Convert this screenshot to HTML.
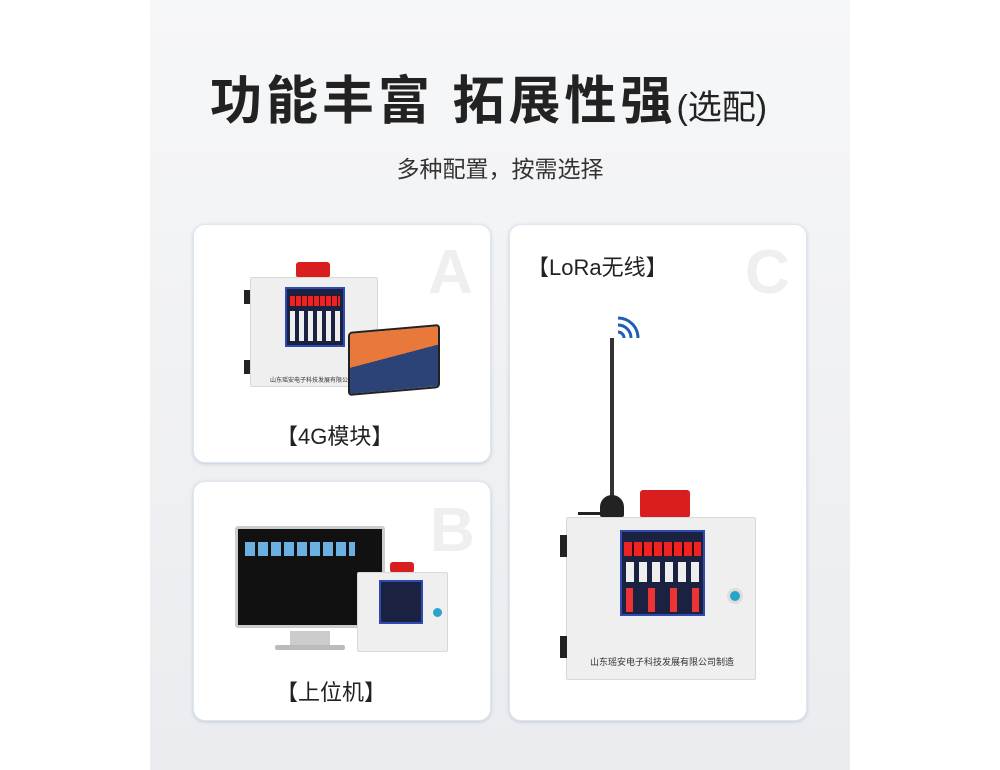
<!DOCTYPE html>
<html><head><meta charset="utf-8"><style>
*{margin:0;padding:0;box-sizing:border-box}
body{width:1000px;height:770px;background:#fff;position:relative;overflow:hidden;font-family:"Liberation Sans","Noto Sans CJK SC",sans-serif}
.bg{position:absolute;left:150px;top:0;width:700px;height:770px;background:linear-gradient(180deg,#f6f7f8 0%,#f0f1f3 50%,#eaecef 100%)}
.a{position:absolute}
.card{position:absolute;background:#fff;border-radius:12px;box-shadow:0 1px 3px rgba(150,170,200,.5);border:1px solid #dfe6ef}
.L{position:absolute;font-weight:bold;color:#efefef;font-size:62px;line-height:1}
.lab{position:absolute;font-size:22px;color:#222;white-space:nowrap}
.box{position:absolute;background:#efefef;border:1px solid #d8d8d8;border-radius:2px}
.pan{position:absolute;background:#1b2140;border:2px solid #2f4ab0}
.red{position:absolute;background:#d81e1e;border-radius:3px}
</style></head><body>
<div class="bg"></div>
<div class="a" style="left:210px;top:70px;font-size:52px;font-weight:bold;color:#222;letter-spacing:4px;white-space:nowrap;line-height:64px">功能丰富 拓展性强<span style="font-size:34px;font-weight:normal;letter-spacing:0">(选配)</span></div>
<div class="a" style="left:0;width:1000px;text-align:center;top:150px;font-size:23px;color:#333">多种配置，按需选择</div>

<div class="card" style="left:193px;top:224px;width:298px;height:239px"></div>
<div class="card" style="left:193px;top:481px;width:298px;height:240px"></div>
<div class="card" style="left:509px;top:224px;width:298px;height:497px"></div>
<div class="L" style="left:428px;top:242px">A</div>
<div class="L" style="left:430px;top:500px">B</div>
<div class="L" style="left:745px;top:242px">C</div>

<!-- A -->
<div class="red" style="left:296px;top:262px;width:34px;height:16px"></div>
<div class="box" style="left:250px;top:277px;width:128px;height:110px"></div>
<div class="a" style="left:244px;top:290px;width:6px;height:14px;background:#222"></div>
<div class="a" style="left:244px;top:360px;width:6px;height:14px;background:#222"></div>
<div class="pan" style="left:285px;top:287px;width:60px;height:60px"></div>
<div class="a" style="left:290px;top:296px;width:50px;height:10px;background:repeating-linear-gradient(90deg,#e22 0 5px,#300 5px 6px)"></div>
<div class="a" style="left:290px;top:311px;width:50px;height:30px;background:repeating-linear-gradient(90deg,#eee 0 5px,transparent 5px 9px)"></div>
<div class="a" style="left:270px;top:375px;font-size:6px;color:#333">山东瑶安电子科技发展有限公司制造</div>
<div class="a" style="left:348px;top:328px;width:92px;height:64px;border-radius:4px;background:linear-gradient(170deg,#e8793a 0 45%,#2c4377 45%);border:2px solid #222;transform:skewY(-5deg)"></div>
<div class="lab" style="left:276px;top:419px">【4G模块】</div>

<!-- B -->
<div class="a" style="left:235px;top:526px;width:150px;height:102px;background:#111;border:3px solid #ccc;border-radius:3px"></div>
<div class="a" style="left:245px;top:542px;width:110px;height:14px;background:repeating-linear-gradient(90deg,#6ab0e0 0 10px,#111 10px 13px)"></div>
<div class="a" style="left:290px;top:631px;width:40px;height:14px;background:#ccc"></div>
<div class="a" style="left:275px;top:645px;width:70px;height:5px;background:#bbb;border-radius:2px"></div>
<div class="red" style="left:390px;top:562px;width:24px;height:11px"></div>
<div class="box" style="left:357px;top:572px;width:91px;height:80px"></div>
<div class="pan" style="left:379px;top:580px;width:44px;height:44px"></div>
<div class="a" style="left:433px;top:608px;width:9px;height:9px;border-radius:50%;background:#2aa3c9"></div>
<div class="lab" style="left:276px;top:675px">【上位机】</div>

<!-- C -->
<div class="lab" style="left:527px;top:250px">【LoRa无线】</div>
<svg class="a" style="left:608px;top:308px" width="36" height="36"><g fill="none" stroke="#1f5fb6" stroke-width="3"><path d="M10 24a6 6 0 0 1 6 6"/><path d="M10 17a13 13 0 0 1 13 13"/><path d="M10 10a20 20 0 0 1 20 20"/></g></svg>
<div class="a" style="left:610px;top:338px;width:4px;height:160px;background:#333"></div>
<div class="a" style="left:600px;top:495px;width:24px;height:22px;background:#222;border-radius:12px 12px 2px 2px"></div>
<div class="a" style="left:578px;top:512px;width:30px;height:3px;background:#222"></div>
<div class="red" style="left:640px;top:490px;width:50px;height:28px"></div>
<div class="box" style="left:566px;top:517px;width:190px;height:163px"></div>
<div class="a" style="left:560px;top:535px;width:7px;height:22px;background:#222"></div>
<div class="a" style="left:560px;top:636px;width:7px;height:22px;background:#222"></div>
<div class="pan" style="left:620px;top:530px;width:85px;height:86px"></div>
<div class="a" style="left:624px;top:542px;width:77px;height:14px;background:repeating-linear-gradient(90deg,#e22 0 8px,#300 8px 10px)"></div>
<div class="a" style="left:626px;top:562px;width:73px;height:20px;background:repeating-linear-gradient(90deg,#eee 0 8px,transparent 8px 13px)"></div>
<div class="a" style="left:626px;top:588px;width:73px;height:24px;background:repeating-linear-gradient(90deg,#e33 0 7px,transparent 7px 22px)"></div>
<div class="a" style="left:727px;top:588px;width:16px;height:16px;border-radius:50%;background:#2aa3c9;border:3px solid #ddd"></div>
<div class="a" style="left:590px;top:655px;font-size:9px;color:#333;white-space:nowrap">山东瑶安电子科技发展有限公司制造</div>
</body></html>
